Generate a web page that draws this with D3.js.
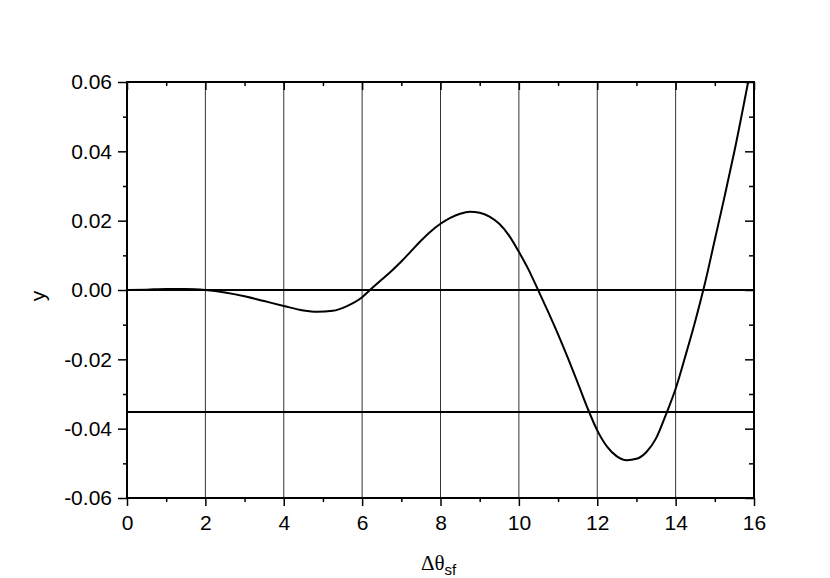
<!DOCTYPE html>
<html>
<head>
<meta charset="utf-8">
<script src="https://cdn.jsdelivr.net/npm/d3@7"></script>
<style>
  body { margin: 0; background: #fff; }
  text { font-family: "Liberation Sans", Arial, sans-serif; }
</style>
</head>
<body>
<div id="chart"></div>
<script>
// curve
const xVals = [0, 0.5, 1, 1.5, 2, 2.5, 3, 3.5, 4, 4.5, 4.85, 5.25, 5.6, 6,
  6.2, 6.5, 6.75, 7, 7.25, 7.5, 7.75, 8, 8.25, 8.5, 8.75, 9, 9.25, 9.5, 9.75, 10,
  10.25, 10.49, 10.75, 11, 11.25, 11.5, 11.75, 12, 12.25, 12.5, 12.75, 13, 13.25, 13.5, 13.75, 14,
  14.25, 14.5, 14.75, 15, 15.25, 15.5, 15.85];
const yVals = [0, 0.0001, 0.0003, 0.0003, 0, -0.0007, -0.0018, -0.0032, -0.0046, -0.0059, -0.0063, -0.0060, -0.0047, -0.0021,
  0, 0.0030, 0.0055, 0.0082, 0.0112, 0.0142, 0.0169, 0.0191, 0.0208, 0.0220, 0.0226, 0.0223, 0.0212, 0.0191, 0.0157, 0.0110,
  0.0058, 0, -0.0064, -0.0128, -0.0196, -0.0267, -0.0340, -0.0405, -0.0452, -0.0480, -0.0491, -0.0487, -0.0468, -0.0428, -0.0360, -0.0285,
  -0.0190, -0.0090, 0.0020, 0.0145, 0.0270, 0.0400, 0.0600];
// horizontal reference lines
const hLines = [0, -0.0352];
// vertical grid lines
const gridX = [2, 4, 6, 8, 10, 12, 14];
const xTicks = [0, 2, 4, 6, 8, 10, 12, 14, 16];
const yTicks = [-0.06, -0.04, -0.02, 0, 0.02, 0.04, 0.06];

const data = xVals.map((x, i) => ({ x: x, y: yVals[i] }));

const W = 830, H = 578;
const m = { left: 127, top: 82, right: 76, bottom: 80 };
const w = W - m.left - m.right, h = H - m.top - m.bottom;

const svg = d3.select('#chart').append('svg')
  .attr('width', W)
  .attr('height', H);

const g = svg.append('g')
  .attr('transform', `translate(${m.left},${m.top})`);

const x = d3.scaleLinear().domain([0, 16]).range([0, w]);
const y = d3.scaleLinear().domain([-0.06, 0.06]).range([h, 0]);

g.append('clipPath').attr('id', 'clip')
  .append('rect').attr('width', w).attr('height', h);

// grid
g.selectAll('.grid')
  .data(gridX)
  .enter()
  .append('line')
  .attr('x1', d => x(d)).attr('x2', d => x(d))
  .attr('y1', 0).attr('y2', h)
  .attr('stroke', '#333')
  .attr('stroke-width', 1);

g.selectAll('.hline')
  .data(hLines)
  .enter()
  .append('line')
  .attr('x1', 0).attr('x2', w)
  .attr('y1', d => y(d)).attr('y2', d => y(d))
  .attr('stroke', '#000')
  .attr('stroke-width', 2);

// curve
g.append('path')
  .datum(data)
  .attr('clip-path', 'url(#clip)')
  .attr('fill', 'none')
  .attr('stroke', '#000')
  .attr('stroke-width', 2)
  .attr('d', d3.line().x(d => x(d.x)).y(d => y(d.y)).curve(d3.curveMonotoneX));

// axes
const fmt = d => d3.format('.2f')(d).replace('−', '-');
const minorX = d3.range(1, 16, 2);
const minorY = d3.range(-0.05, 0.06, 0.02);

function styleAxis(sel) {
  sel.select('.domain').remove();
  sel.selectAll('line').attr('stroke', '#000').attr('stroke-width', 1.5);
  sel.selectAll('text').style('font-size', '21px').attr('fill', '#000');
}

g.append('g')
  .attr('transform', `translate(0,${h})`)
  .call(d3.axisBottom(x).tickValues(xTicks).tickSize(8).tickPadding(9))
  .call(styleAxis);
g.append('g')
  .attr('transform', `translate(0,${h})`)
  .call(d3.axisBottom(x).tickValues(minorX).tickSize(4).tickFormat(''))
  .call(styleAxis);

g.append('g')
  .call(d3.axisLeft(y).tickValues(yTicks).tickFormat(fmt).tickSize(9).tickPadding(6))
  .call(styleAxis);
g.append('g')
  .call(d3.axisLeft(y).tickValues(minorY).tickSize(4).tickFormat(''))
  .call(styleAxis);

// top and right: inward ticks
g.append('g')
  .call(d3.axisBottom(x).tickValues(xTicks).tickSize(8).tickFormat(''))
  .call(styleAxis);
g.append('g')
  .call(d3.axisBottom(x).tickValues(minorX).tickSize(4).tickFormat(''))
  .call(styleAxis);
g.append('g')
  .attr('transform', `translate(${w},0)`)
  .call(d3.axisLeft(y).tickValues(yTicks).tickSize(9).tickFormat(''))
  .call(styleAxis);
g.append('g')
  .attr('transform', `translate(${w},0)`)
  .call(d3.axisLeft(y).tickValues(minorY).tickSize(5).tickFormat(''))
  .call(styleAxis);

// frame
g.append('rect')
  .attr('width', w).attr('height', h)
  .attr('fill', 'none')
  .attr('stroke', '#000')
  .attr('stroke-width', 2);

// titles
svg.append('text')
  .attr('transform', `translate(45,${m.top + h / 2 + 6}) rotate(-90)`)
  .attr('text-anchor', 'middle')
  .style('font-size', '21px')
  .text('y');

const xt = svg.append('text')
  .attr('x', m.left + w / 2 - 2)
  .attr('y', 570)
  .attr('text-anchor', 'middle')
  .style('font-family', '"Liberation Serif", "Times New Roman", serif')
  .style('font-size', '21px');
xt.append('tspan').text('Δθ');
xt.append('tspan').attr('dy', 5).style('font-family', '"Liberation Sans", Arial, sans-serif').style('font-size', '15px').text('sf');
</script>
</body>
</html>
